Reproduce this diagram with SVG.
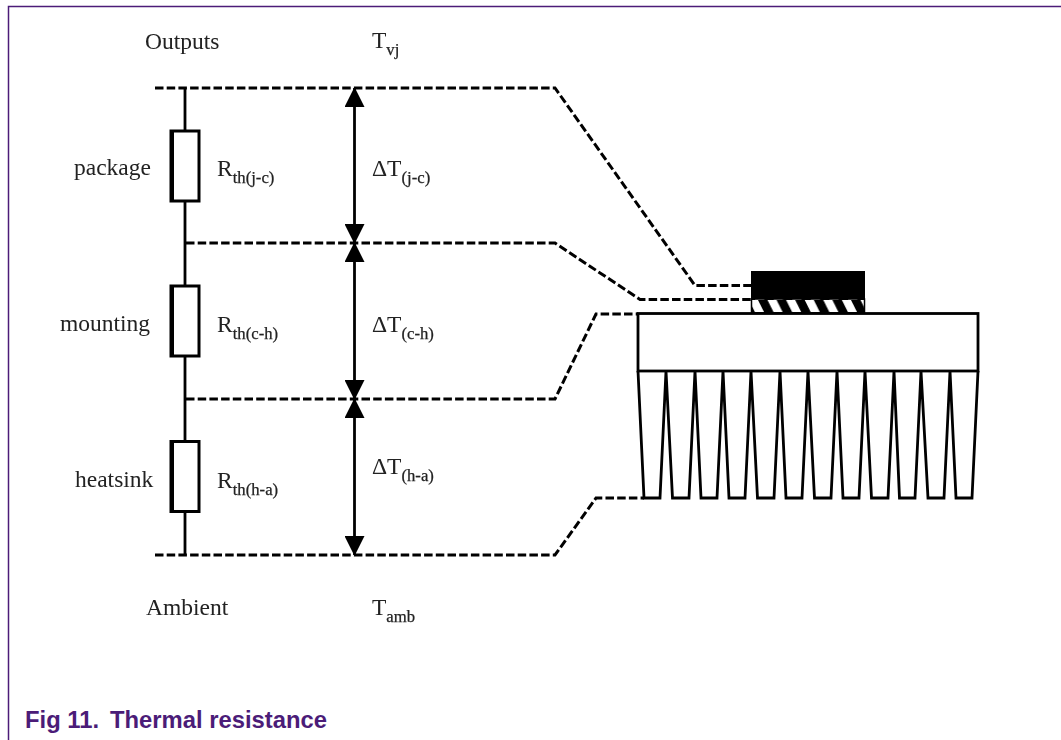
<svg xmlns="http://www.w3.org/2000/svg" width="1061" height="740" viewBox="0 0 1061 740">
<style>
.t{font-family:"Liberation Serif","Times New Roman",serif;font-size:23.5px;fill:#222}
.s{font-size:16.7px;stroke:#222;stroke-width:.25}
.d{fill:none;stroke:#000;stroke-width:3;stroke-dasharray:8.5 3.2}
.w{fill:none;stroke:#000;stroke-width:2.8}
.r{fill:#fff;stroke:#000;stroke-width:3}
.l{fill:#000}
.c{font-family:"Liberation Sans",Arial,sans-serif;font-weight:700;font-size:23.8px;fill:#4b1c78}
</style>
<defs>
<filter id="b" filterUnits="userSpaceOnUse" x="0" y="0" width="1061" height="740"><feGaussianBlur stdDeviation="0.45"/></filter>
<marker id="a" markerUnits="userSpaceOnUse" markerWidth="20" markerHeight="20" refX="19" refY="10" orient="auto-start-reverse" viewBox="0 0 20 20"><path d="M0 0 L20 10 L0 20Z" fill="#000"/></marker>
<pattern id="h" patternUnits="userSpaceOnUse" x="758" y="300" width="18.6" height="13"><rect width="18.6" height="13" fill="#fff"/><path d="M0 0H9.500L16 13H6.500Z" fill="#000"/></pattern>
</defs>
<rect width="1061" height="740" fill="#fff"/>
<path id="frame" d="M1061 6.500H8.500V740" fill="none" stroke="#4b1c78" stroke-width="1.500"/>
<g filter="url(#b)">
<g id="connectors">
<path class="w" d="M185 88V131M185 201V286M185 356V441M185 512V555"/>
<path class="w" d="M354.500 88V243" marker-start="url(#a)" marker-end="url(#a)"/>
<path class="w" d="M354.500 243V399" marker-start="url(#a)" marker-end="url(#a)"/>
<path class="w" d="M354.500 399V555" marker-start="url(#a)" marker-end="url(#a)"/>
<path class="d" d="M155 88H555L695 285.500H751"/>
<path class="d" d="M186 243H555L640 299.500H751"/>
<path class="d" d="M186 399H555L596 314H638"/>
<path class="d" d="M155 555H555L596 498H644"/>
</g>
<g id="resistor-package"><rect class="r" x="171" y="131" width="28" height="70"/><rect class="l" x="170" y="131" width="4" height="70"/><text class="t" x="74" y="175">package</text></g>
<g id="resistor-mounting"><rect class="r" x="171" y="286" width="28" height="70"/><rect class="l" x="170" y="286" width="4" height="70"/><text class="t" x="60" y="331">mounting</text></g>
<g id="resistor-heatsink"><rect class="r" x="171" y="441.500" width="28" height="70"/><rect class="l" x="170" y="441.500" width="4" height="70"/><text class="t" x="75" y="487">heatsink</text></g>
<g id="labels">
<text class="t" x="145" y="49">Outputs</text>
<text class="t" x="146" y="615">Ambient</text>
<text class="t" x="372" y="48">T<tspan class="s" dy="7">vj</tspan></text>
<text class="t" x="372" y="615">T<tspan class="s" dy="7">amb</tspan></text>
<text class="t" x="217" y="175.500">R<tspan class="s" dy="7">th(j-c)</tspan></text>
<text class="t" x="217" y="331.500">R<tspan class="s" dy="7">th(c-h)</tspan></text>
<text class="t" x="217" y="487.500">R<tspan class="s" dy="7">th(h-a)</tspan></text>
<text class="t" x="372" y="175.500">ΔT<tspan class="s" dy="7">(j-c)</tspan></text>
<text class="t" x="372" y="331.500">ΔT<tspan class="s" dy="7">(c-h)</tspan></text>
<text class="t" x="372" y="473.500">ΔT<tspan class="s" dy="7">(h-a)</tspan></text>
</g>
<g id="device">
<rect x="751" y="271" width="114" height="29" fill="#000"/>
<rect x="751.500" y="299" width="113" height="14" fill="url(#h)" stroke="#000" stroke-width="1.500"/>
</g>
<g id="heatsink">
<rect x="638" y="313.500" width="340" height="57.500" fill="#fff" stroke="#000" stroke-width="2.800"/>
<path class="w" d="M638 371L644 498H660L666 371L672.500 498H689L695 371L701 498H717L723 371L729 498H745L751 371L757.500 498H774L780 371L786 498H802L808 371L814.500 498H831L837 371L843 498H859L865 371L871.500 498H888L894 371L899.500 498H915L921 371L928 498H944L950 371L956 498H972L978 371"/>
</g>
</g>
<text id="caption" class="c" x="25" y="728">Fig 11.</text>
<text class="c" x="110" y="728">Thermal resistance</text>
</svg>
